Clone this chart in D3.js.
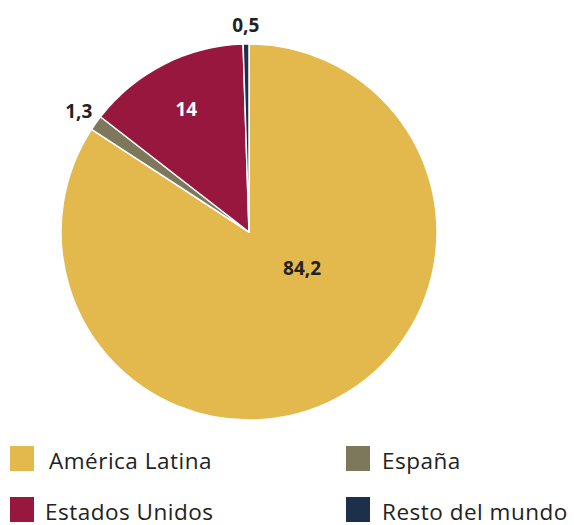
<!DOCTYPE html>
<html>
<head>
<meta charset="utf-8">
<script src="https://cdn.jsdelivr.net/npm/d3@7"></script>
<style>
  body { margin: 0; background: #fff; }
  text { font-family: "Open Sans", "Noto Sans", sans-serif; }
</style>
</head>
<body>
<div id="chart"></div>
<script>
const categories = ["América Latina", "España", "Estados Unidos", "Resto del mundo"];
const values = [84.2, 1.3, 14, 0.5];
const valueLabels = ["84,2", "1,3", "14", "0,5"];
const colors = ["#E3B84C", "#7D775B", "#97173F", "#1D304B"];

const width = 574, height = 525;
const cx = 249, cy = 232, radius = 188;

const svg = d3.select("#chart").append("svg")
    .attr("width", width)
    .attr("height", height);

const data = categories.map((c, i) => ({ name: c, value: values[i], label: valueLabels[i], color: colors[i] }));

const pie = d3.pie().value(d => d.value).sort(null);
const arc = d3.arc().innerRadius(0).outerRadius(radius);
const arcs = pie(data);

const g = svg.append("g").attr("transform", `translate(${cx},${cy})`);

g.selectAll("path")
    .data(arcs)
    .enter().append("path")
    .attr("d", arc)
    .attr("fill", d => d.data.color)
    .attr("stroke", "#fff")
    .attr("stroke-width", 1.5)
    .attr("stroke-linejoin", "round");

// label placement: distance from centre, optional angle (degrees) override
const labelOpts = [
    { r: 64, angle: 124, fill: "#222" },
    { r: 209, fill: "#222" },
    { r: 138, fill: "#fff" },
    { r: 207, fill: "#222" }
];

g.selectAll(".val")
    .data(arcs)
    .enter().append("text")
    .attr("class", "val")
    .attr("transform", (d, i) => {
        const o = labelOpts[i];
        const a = o.angle != null ? o.angle * Math.PI / 180 : (d.startAngle + d.endAngle) / 2;
        return `translate(${Math.sin(a) * o.r},${-Math.cos(a) * o.r})`;
    })
    .attr("text-anchor", "middle")
    .attr("dominant-baseline", "central")
    .attr("font-size", 19)
    .attr("font-weight", "bold")
    .attr("fill", (d, i) => labelOpts[i].fill)
    .text(d => d.data.label);

// legend
const legendX = d3.scalePoint().domain([0, 1]).range([10, 346]);
const legendY = d3.scalePoint().domain([0, 1]).range([446, 497]);
const textGap = [39, 36, 35, 36];

const leg = svg.selectAll(".leg")
    .data(data)
    .enter().append("g")
    .attr("class", "leg")
    .attr("transform", (d, i) => `translate(${legendX(i % 2)},${legendY(Math.floor(i / 2))})`);

leg.append("rect")
    .attr("width", 24)
    .attr("height", 25)
    .attr("fill", d => d.color);

leg.append("text")
    .attr("x", (d, i) => textGap[i])
    .attr("y", 14)
    .attr("dominant-baseline", "central")
    .attr("font-size", 22.5)
    .attr("letter-spacing", 0.5)
    .attr("fill", "#222")
    .text(d => d.name);
</script>
</body>
</html>
